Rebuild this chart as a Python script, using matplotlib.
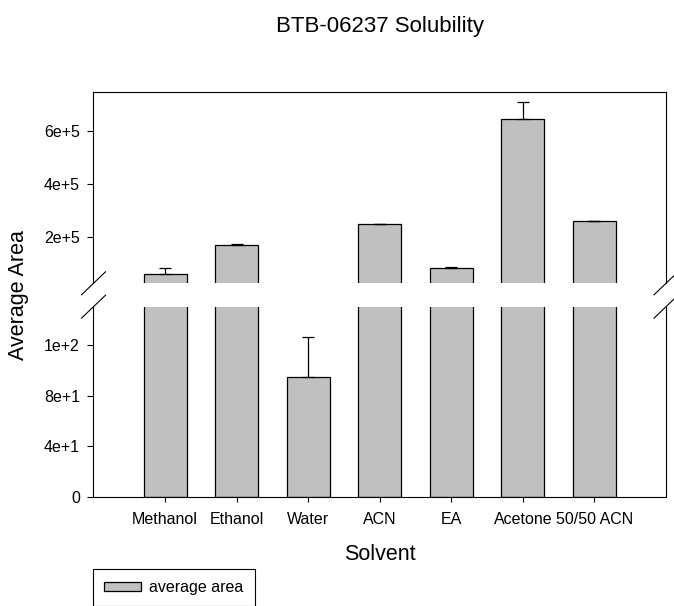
import matplotlib
matplotlib.use("Agg")
import matplotlib.pyplot as plt
import numpy as np

plt.rcParams['font.family'] = ['Liberation Sans', 'DejaVu Sans']

# Solvent screen: mean peak area and upper error per solvent
solvents = ["Methanol", "Ethanol", "Water", "ACN", "EA", "Acetone", "50/50 ACN"]
avg_area = [62000, 170000, 95, 250000, 83600, 644600, 262000]
area_err = [22500, 6000, 31, 2000, 4000, 62600, 1000]

upper_ticks = [2e5, 4e5, 6e5]
upper_labels = ["2e+5", "4e+5", "6e+5"]
lower_ticks = [0, 40, 80, 120]
lower_labels = ["0", "4e+1", "8e+1", "1e+2"]

W, H = 674, 606
fig = plt.figure(figsize=(W / 100, H / 100), dpi=100)


def rect(l, t, r, b):
    return [l / W, 1 - b / H, (r - l) / W, (b - t) / H]


ax_top = fig.add_axes(rect(93.5, 92.3, 666, 283.3))
ax_bot = fig.add_axes(rect(93.5, 306.7, 666, 497.3))

x = np.arange(1, len(solvents) + 1)
lw = 0.9
for ax in (ax_top, ax_bot):
    bars = ax.bar(x, avg_area, width=0.6, color='#c0c0c0', edgecolor='black',
                  linewidth=lw, zorder=2)
    ax.errorbar(x, avg_area, yerr=[np.zeros(len(x)), area_err], fmt='none',
                ecolor='black', elinewidth=lw, capsize=4.6, capthick=lw, zorder=3)
    ax.set_xlim(0, 8)
    for s in ax.spines.values():
        s.set_linewidth(0.8)
    ax.tick_params(axis='y', direction='out', length=4.3, width=0.8, pad=5.5,
                   labelsize=11.5, right=False)

ax_top.set_ylim(27500, 745000)
ax_bot.set_ylim(0, 150)

ax_top.spines['bottom'].set_visible(False)
ax_bot.spines['top'].set_visible(False)
ax_top.tick_params(axis='x', bottom=False, labelbottom=False)

ax_top.set_yticks(upper_ticks)
ax_top.set_yticklabels(upper_labels)
ax_bot.set_yticks(lower_ticks)
ax_bot.set_yticklabels(lower_labels)

ax_bot.set_xticks(x)
ax_bot.set_xticklabels(solvents)
ax_bot.tick_params(axis='x', direction='out', length=3.6, width=0.8, pad=7,
                   labelsize=11.5)

# Diagonal break marks on both sides of the axis break
dx, dy = 12 / 572.5, 11.5 / 191
for ax, yb in ((ax_top, 0), (ax_bot, 1)):
    for xb in (0, 1):
        ax.plot([xb - dx, xb + dx], [yb - dy, yb + dy], transform=ax.transAxes,
                color='black', lw=0.8, clip_on=False, zorder=5)

fig.text(380 / W, 1 - 31.7 / H, "BTB-06237 Solubility", ha='center',
         va='baseline', fontsize=16)
fig.text(380 / W, 1 - 555 / H, "Solvent", ha='center', va='center', fontsize=15.5)
fig.text(18.3 / W, 1 - 294.8 / H, "Average Area", rotation=90, ha='center',
         va='center', fontsize=15.5)

leg = fig.legend([bars], ["average area"], loc='upper left',
                 bbox_to_anchor=(93.3 / W, 1 - 569 / H), frameon=True,
                 fancybox=False, edgecolor='black', framealpha=1, fontsize=11.5,
                 borderpad=0.7, handlelength=2.3, handleheight=0.45,
                 handletextpad=0.5, borderaxespad=0)
leg.get_frame().set_linewidth(0.8)

fig.savefig("out.png", dpi=100)
